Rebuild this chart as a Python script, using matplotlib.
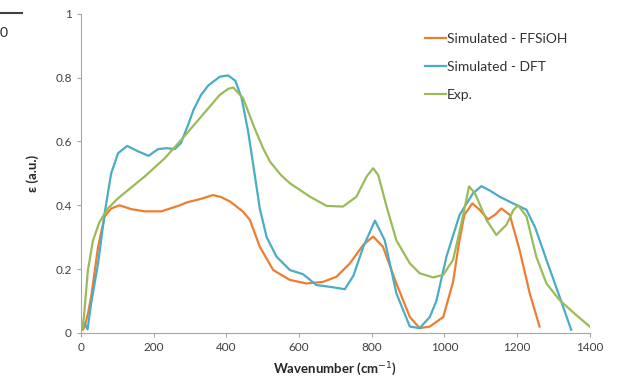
import numpy as np
import matplotlib.pyplot as plt

# ------------------------------
# DATA
# ------------------------------
ffsioh_wn = [5, 10, 19, 28, 47, 65, 83, 106, 138, 175, 221, 267, 294, 330, 363, 385, 410, 446, 465, 492,
             529, 575, 621, 666, 703, 740, 777, 804, 831, 868, 905, 932, 960, 997,
             1024, 1040, 1055, 1077, 1097, 1120, 1139, 1157, 1180, 1207, 1235, 1262]
ffsioh_eps = [0.01, 0.02, 0.06, 0.114, 0.27, 0.365, 0.39, 0.40, 0.388, 0.381, 0.381, 0.398, 0.41, 0.42, 0.432, 0.426, 0.412, 0.38, 0.354, 0.27,
              0.197, 0.166, 0.155, 0.16, 0.176, 0.218, 0.276, 0.302, 0.27, 0.155, 0.05, 0.015, 0.02, 0.05,
              0.16, 0.28, 0.37, 0.406, 0.386, 0.356, 0.37, 0.39, 0.37, 0.26, 0.124, 0.02]

dft_wn = [10, 18, 28, 47, 65, 83, 102, 127, 157, 186, 212, 235, 258, 275, 294, 310, 330, 350, 382, 405, 425,
          442, 460, 474, 492, 511, 538, 575, 611, 648, 694, 726, 750, 777, 809, 836, 868, 905, 932, 960,
          978, 1006, 1042, 1079, 1102, 1127, 1152, 1189, 1226, 1250, 1281, 1317, 1349]
dft_eps = [0.03, 0.011, 0.093, 0.218, 0.375, 0.50, 0.563, 0.586, 0.569, 0.555, 0.576, 0.579, 0.576, 0.595, 0.65, 0.70, 0.745, 0.775, 0.803, 0.807, 0.79,
           0.736, 0.631, 0.527, 0.39, 0.30, 0.239, 0.197, 0.184, 0.15, 0.143, 0.137, 0.18, 0.27, 0.352, 0.29, 0.124, 0.02, 0.015, 0.05,
           0.10, 0.24, 0.37, 0.438, 0.46, 0.445, 0.427, 0.406, 0.386, 0.33, 0.229, 0.114, 0.01]

exp_wn = [3, 8, 19, 33, 51, 74, 102, 175, 230, 276, 327, 382, 405, 419, 446, 474, 501, 520, 550, 575, 630, 676, 721,
          758, 786, 804, 818, 841, 868, 905, 932, 969, 997, 1024, 1047, 1068, 1084, 1116, 1143,
          1171, 1190, 1203, 1226, 1253, 1281, 1317, 1363, 1400]
exp_eps = [0.01, 0.05, 0.197, 0.29, 0.348, 0.39, 0.422, 0.49, 0.547, 0.605, 0.673, 0.746, 0.765, 0.769, 0.736, 0.652, 0.579, 0.537, 0.495, 0.469, 0.427, 0.398, 0.396,
           0.427, 0.49, 0.516, 0.495, 0.396, 0.29, 0.218, 0.187, 0.174, 0.182, 0.229, 0.344, 0.459, 0.438, 0.354, 0.307,
           0.339, 0.385, 0.40, 0.365, 0.239, 0.155, 0.103, 0.056, 0.02]

x_ticks = [0, 200, 400, 600, 800, 1000, 1200, 1400]
y_ticks = [0, 0.2, 0.4, 0.6, 0.8, 1]
y_tick_labels = ["0", "0.2", "0.4", "0.6", "0.8", "1"]

# ------------------------------
# PLOT
# ------------------------------
plt.rcParams["font.family"] = ["Lato", "DejaVu Sans"]

fig = plt.figure(figsize=(6.28, 3.84), dpi=100)
ax = fig.add_axes([0.129, 0.133, 0.81, 0.831])

ax.plot(ffsioh_wn, ffsioh_eps, color="#ED7D31", lw=1.6, label="Simulated - FFSiOH")
ax.plot(dft_wn, dft_eps, color="#4BACC6", lw=1.6, label="Simulated - DFT")
ax.plot(exp_wn, exp_eps, color="#9BBB59", lw=1.6, label="Exp.")

ax.set_xlim(0, 1400)
ax.set_ylim(0, 1)
ax.set_xticks(x_ticks)
ax.set_yticks(y_ticks)
ax.set_yticklabels(y_tick_labels)

for side in ["top", "right"]:
    ax.spines[side].set_visible(False)
for side in ["left", "bottom"]:
    ax.spines[side].set_color("#A6A6A6")
ax.tick_params(colors="#A6A6A6", labelcolor="#404040", labelsize=8.5, length=3, direction="out")

ax.set_xlabel("Wavenumber (cm$^{-1}$)", fontsize=9.5, fontweight="bold", color="#262626", labelpad=5)
ax.set_ylabel("ε (a.u.)", fontsize=9.5, fontweight="bold", color="#262626", labelpad=12)

ax.legend(loc="upper left", bbox_to_anchor=(0.676, 0.94), frameon=False, fontsize=10,
          borderaxespad=0, borderpad=0, handlelength=1.5, handletextpad=0.1,
          labelspacing=1.15, labelcolor="#333333")

# edge of the neighbouring panel at the top-left
fig.add_artist(plt.Line2D([0, 0.035], [0.965, 0.965], color="#404040", lw=1.5))
fig.text(0.0, 0.915, "0", fontsize=10, color="#262626", ha="left", va="center")

plt.savefig("out.png", dpi=100)
plt.close()
